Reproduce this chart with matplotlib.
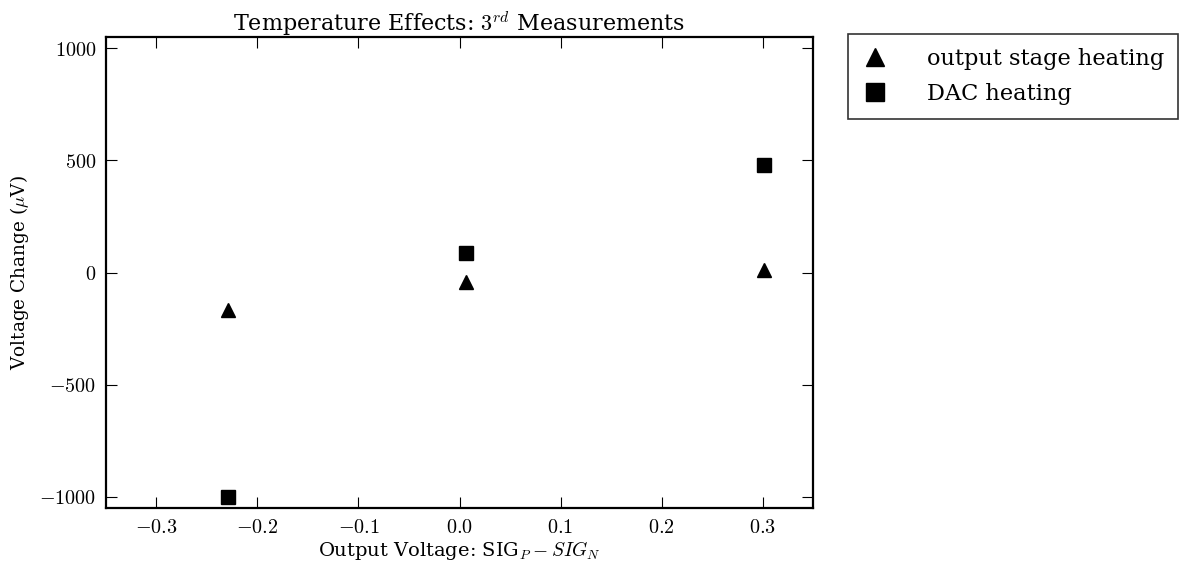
import numpy as np
import matplotlib
matplotlib.use("Agg")
import matplotlib.pyplot as plt
from matplotlib.ticker import FormatStrFormatter

# output voltage (V) and voltage change (uV)
sig_out = [-0.229, 0.006, 0.301]
stage_heating = [-165, -41, 10]
dac_heating = [-1000, 88, 479]

plt.rcParams['font.family'] = 'DejaVu Serif'
plt.rcParams['mathtext.fontset'] = 'cm'
plt.rcParams['font.size'] = 14

fig = plt.figure(figsize=(11.84, 5.66), dpi=100)
ax = fig.add_axes([0.0895, 0.1025, 0.5972, 0.8321])

ax.plot(sig_out, stage_heating, '^', color='k', ms=10, mec='k', label='output stage heating')
ax.plot(sig_out, dac_heating, 's', color='k', ms=10, mec='k', label='DAC heating')

ax.set_xlim(-0.35, 0.35)
ax.set_ylim(-1050, 1050)
ax.set_xticks(np.arange(-0.3, 0.31, 0.1))
ax.set_yticks([-1000, -500, 0, 500, 1000])
ax.xaxis.set_major_formatter(FormatStrFormatter(r'$%.1f$'))
ax.yaxis.set_major_formatter(FormatStrFormatter(r'$%d$'))
ax.tick_params(direction='in', top=True, right=True, length=8, width=0.8,
               labelsize=14.5, pad=7)
for s in ax.spines.values():
    s.set_linewidth(1.6)

ax.set_title(r'Temperature Effects: $3^{rd}$ Measurements', fontsize=16, pad=4)
ax.set_xlabel(r'Output Voltage: SIG$_P - SIG_N$', fontsize=14, labelpad=2)
ax.set_ylabel(r'Voltage Change ($\mu$V)', fontsize=13.3, labelpad=6)

leg = ax.legend(loc='upper left', bbox_to_anchor=(1.05, 1.006), borderaxespad=0,
                fontsize=16.2, numpoints=1, fancybox=False, markerscale=1.3,
                handlelength=1.2, handletextpad=1.7, borderpad=0.6,
                labelspacing=0.6)
leg.get_frame().set_edgecolor('k')
leg.get_frame().set_linewidth(1.2)

fig.savefig('out.png', dpi=100)
